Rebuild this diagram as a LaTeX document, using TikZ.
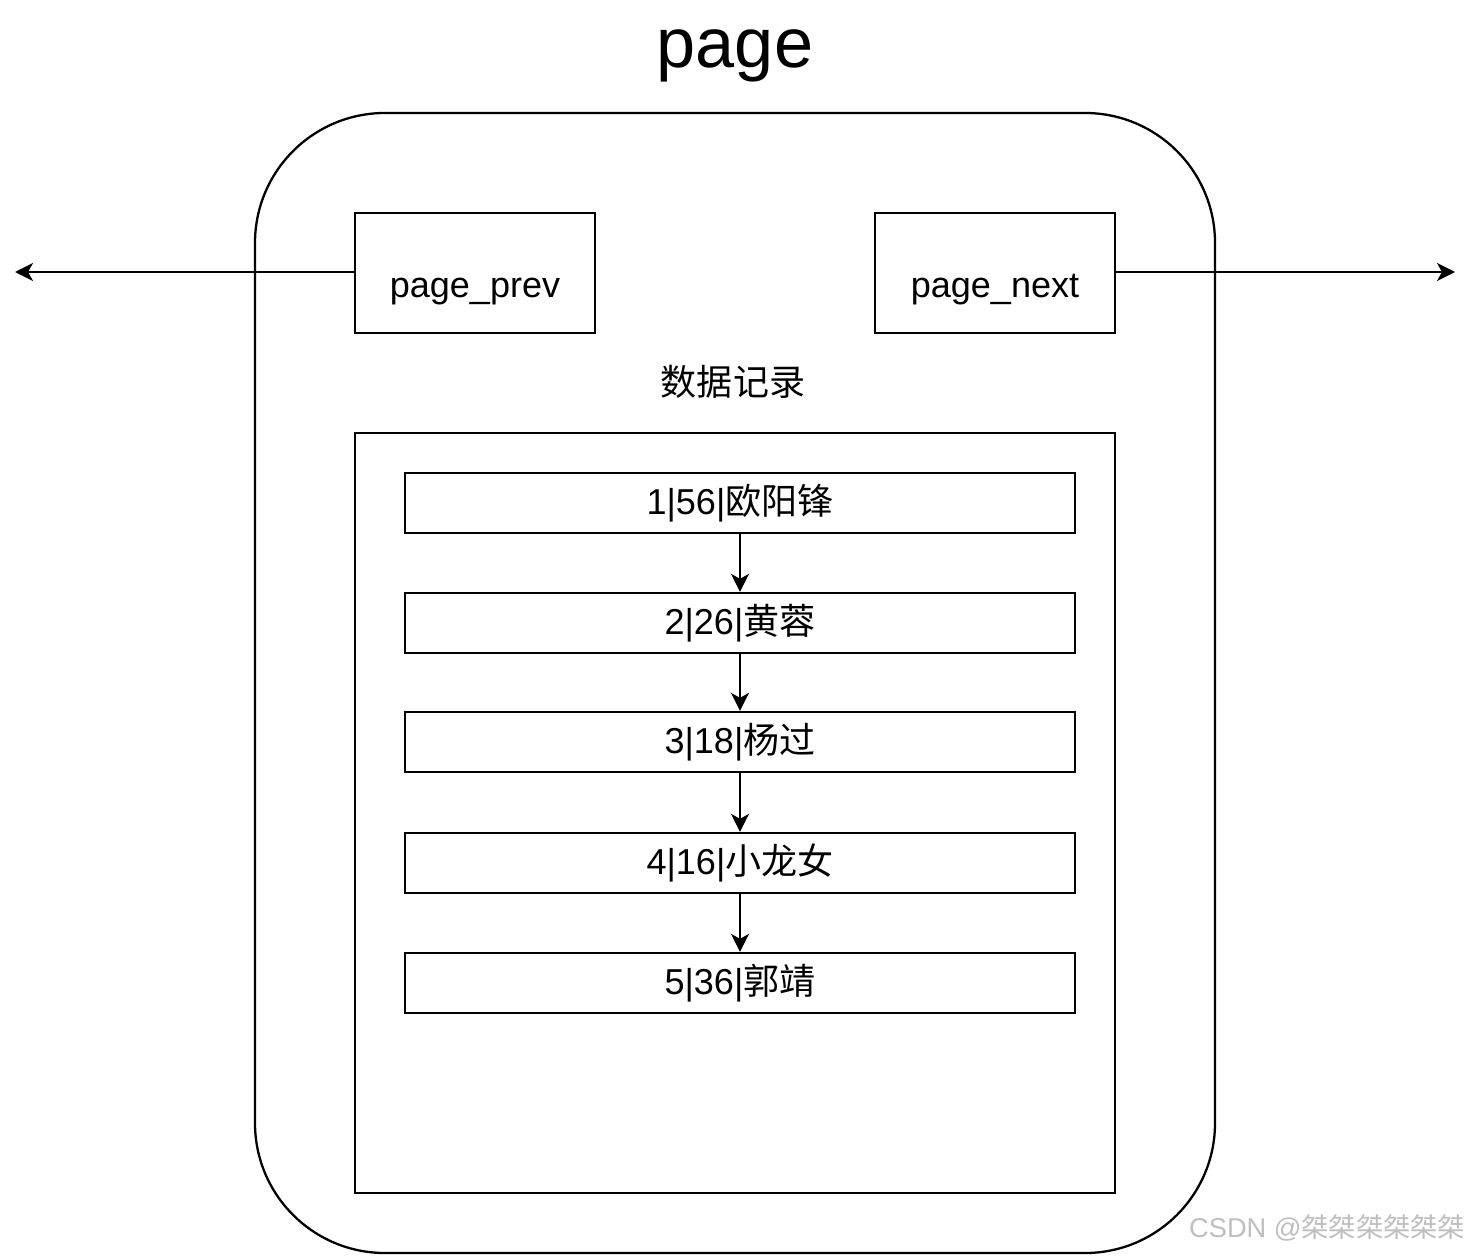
\documentclass[tikz,border=0pt]{standalone}
\usepackage{fontspec}
\setmainfont{Liberation Sans}
\newfontfamily\cjk{Noto Sans CJK SC}
\usetikzlibrary{arrows.meta}

\begin{document}
\begin{tikzpicture}[x=0.2mm, y=-0.2mm, line width=1.3pt,
  field/.style={draw, minimum width=4.8cm, minimum height=2.4cm},
  rec/.style={draw, minimum width=13.4cm, minimum height=1.2cm, font=\fontsize{20.5}{24}\selectfont},
  txt/.style={font=\fontsize{20.5}{24}\selectfont},
  link/.style={-{Stealth[length=3.6mm, width=3.6mm, inset=1mm]}}]
  \useasboundingbox (0,0) rectangle (1474,1256);
  % page frame
  \node[anchor=base, font=\fontsize{40}{48}\selectfont] (title) at (735,68) {page};
  \node[draw, rounded corners=2.6cm, minimum width=19.2cm, minimum height=22.8cm] (page) at (735,683) {};
  \node[field] (prev) at (475,273) {};
  \node[field] (next) at (995,273) {};
  \node[txt, anchor=base] (prevlbl) at (475,298) {page\_prev};
  \node[txt, anchor=base] (nextlbl) at (995,298) {page\_next};
  \coordinate (lend) at (15,272);
  \coordinate (rend) at (1455,272);
  \draw[link] (prev.west |- lend) -- (lend);
  \draw[link] (next.east |- rend) -- (rend);
  % records
  \node[txt, anchor=base] (head) at (733,395) {\cjk 数据记录};
  \node[draw, minimum width=15.2cm, minimum height=15.2cm] (data) at (735,813) {};
  \node[rec] (r1) at (740,503) {1|56|{\cjk 欧阳锋}};
  \node[rec] (r2) at (740,623) {2|26|{\cjk 黄蓉}};
  \node[rec] (r3) at (740,742) {3|18|{\cjk 杨过}};
  \node[rec] (r4) at (740,863) {4|16|{\cjk 小龙女}};
  \node[rec] (r5) at (740,983) {5|36|{\cjk 郭靖}};
  \draw[link] (r1) -- (r2);
  \draw[link] (r2) -- (r3);
  \draw[link] (r3) -- (r4);
  \draw[link] (r4) -- (r5);
  \node[anchor=east, text=black!25, font=\fontsize{15.5}{18}\selectfont] (mark) at (1472,1228) {CSDN @{\cjk 桀桀桀桀桀桀}};
\end{tikzpicture}
\end{document}
